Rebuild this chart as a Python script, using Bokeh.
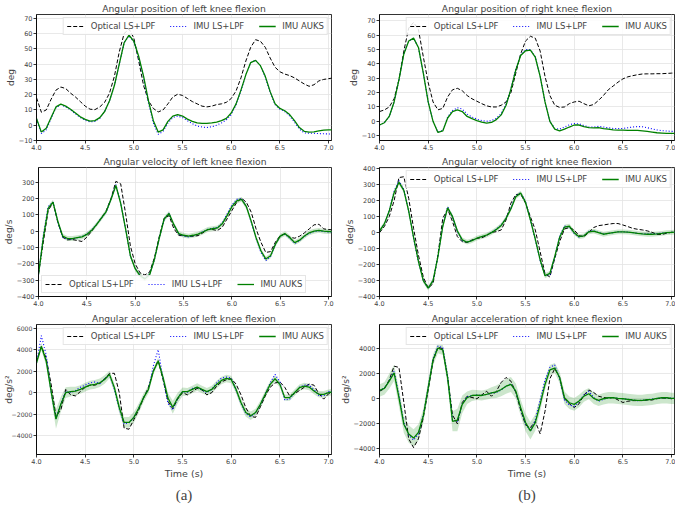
from bokeh.plotting import figure
from bokeh.models import FixedTicker, Legend, LegendItem, Title, Range1d
from bokeh.layouts import column, row
from bokeh.embed import file_html
from bokeh.resources import INLINE

# time samples (s)
T = [round(4.0 + 0.05 * i, 2) for i in range(62)]

# ---------------- Angular position (deg) ----------------
pos_l_opt = [18, 8.5, 10, 17, 23, 25, 24, 21, 18.5, 15.5,
             12.5, 10.5, 10.2, 12, 15, 21, 32, 48, 60, 63,
             57, 42, 26, 16, 11, 8.7, 10, 14, 18.5, 20.3,
             19.5, 17.5, 15.5, 14, 12.5, 12, 12.5, 13.5, 14, 15,
             17.5, 22.5, 31, 42, 51, 56, 55, 51, 44, 38,
             35, 33.5, 32.5, 31, 29, 27, 25.5, 26.5, 29, 30,
             30.5, 31]
pos_l_ls = [4, -5.5, -3, 4.5, 11.5, 13.5, 12, 10, 7.5, 5,
            3.2, 2.2, 2.5, 4.5, 9, 16, 26, 40, 54, 58.5,
            54.5, 44, 31, 14.5, 1.5, -6, -4, 1.5, 5, 6,
            5, 3, 1, -0.5, -1.2, -1.5, -1, 0, 1.5, 3.5,
            7, 13.5, 22.5, 33, 41, 42.5, 39, 31.5, 21.5, 13.5,
            10.5, 9, 6, 2, -2.5, -5, -5.3, -5.3, -5.5, -5.6,
            -5.7, -5.8]
pos_l_auks = [4.5, -4.5, -2, 5, 12, 13.8, 12.5, 10.5, 8, 5.5,
              3.8, 2.7, 3, 5, 9, 16, 26, 40, 54, 59,
              55, 45, 32, 16, 3, -4.5, -3, 2.5, 6, 7,
              6, 4, 2.5, 1.5, 1.2, 1.2, 1.5, 2, 3, 4.5,
              8, 14, 23, 33, 41, 42.5, 39, 32, 22, 14,
              11, 9.5, 7, 3, -1.5, -4, -4.5, -4.3, -3.7, -3.2,
              -3, -3]

pos_r_opt = [6.8, 7.9, 10, 15.7, 29, 49, 65, 69, 64, 45,
             27, 13.5, 8, 9, 17, 22, 23, 21.3, 18, 15.7,
             14, 12.3, 10.8, 10, 10, 11.2, 13.5, 20, 33.6, 47,
             56, 59.3, 58, 49, 31.3, 18, 11.2, 9.7, 10, 12.3,
             13.5, 14, 12.3, 10.8, 11.7, 14.6, 18, 22, 24.6, 27.3,
             29.6, 31, 31.8, 32.5, 33, 33.1, 33.1, 33.2, 33.2, 33.4,
             33.6, 33.7]
pos_r_ls = [-2.6, -1, 3.4, 13.5, 29, 47, 56, 58, 51.5, 33.6,
            13.5, 0, -7.5, -6.5, 3, 7.5, 9.5, 8.5, 5, 3,
            1.5, 0.5, 0, 0.5, 2, 5.5, 12, 23, 36.5, 46.5,
            50, 50, 45, 31.5, 13.5, 0, -5, -5.5, -4, -2.5,
            -1.5, -1.8, -3, -4, -4, -3.5, -4, -4.5, -5, -5,
            -5, -4.5, -4, -3.7, -3.8, -4.5, -5.3, -6, -6.5, -6.8,
            -7, -7.1]
pos_r_auks = [-2.6, -1, 3.4, 13.5, 29, 47, 56, 58, 51.5, 33.6,
              13.5, 0, -7.8, -6.7, 2.3, 6.8, 7.9, 6.8, 3.4, 1.8,
              0.5, -0.6, -1.3, -0.8, 1.2, 4.5, 11.2, 22.4, 35.8, 45.9,
              49.2, 49.6, 44.7, 31.3, 13.5, 0, -5.5, -6.7, -5.5, -4,
              -2.6, -2.6, -3.7, -4.4, -4.6, -4.4, -5.1, -5.5, -6, -6.2,
              -6.2, -6.4, -6.4, -6.4, -6.7, -7.1, -7.5, -8, -8.2, -8.4,
              -8.4, -8.5]

# ---------------- Angular velocity (deg/s) ----------------
vel_l_opt = [-261, -67, 126, 175, 55, -37, -53, -51, -57, -63,
             -37, 0, 40, 80, 125, 200, 305, 290, 110, -90,
             -200, -255, -268, -250, -160, -30, 80, 95, 15, -25,
             -27, -31, -31, -27, -10, 10, 10, 4, 24, 75,
             126, 177, 202, 177, 116, 14, -67, -130, -125, -67,
             -27, -16, -37, -43, -31, -10, 14, 39, 42, 14,
             10, 8]
vel_l_ls = [-265, -25, 150, 178, 55, -35, -50, -48, -40, -33,
            -18, 8, 42, 80, 118, 195, 285, 175, 15, -150,
            -228, -270, -288, -265, -170, -40, 75, 110, 38, -18,
            -30, -35, -28, -18, -3, 12, 18, 22, 50, 105,
            160, 195, 200, 150, 55, -45, -130, -180, -155, -80,
            -30, -18, -45, -75, -58, -32, -12, -2, 2, -3,
            -5, -5]
vel_l_auks = [-265, -40, 140, 178, 60, -30, -45, -45, -40, -35,
              -20, 5, 40, 80, 120, 195, 280, 170, 15, -150,
              -230, -272, -292, -265, -170, -40, 75, 108, 40, -15,
              -25, -30, -25, -18, -5, 10, 15, 20, 45, 95,
              150, 185, 195, 150, 60, -40, -120, -170, -150, -80,
              -30, -15, -40, -70, -55, -30, -10, 0, 5, 0,
              -2, -3]

vel_r_opt = [0, 38, 100, 200, 345, 350, 215, 27, -141, -278,
             -347, -320, -141, 90, 147, 69, -25, -57, -61, -46,
             -36, -32, -19, 2, 6, 17, 80, 185, 238, 242,
             185, 100, 17, -120, -257, -278, -162, -57, 23, 32,
             17, -19, -25, 2, 32, 44, 48, 53, 57, 57,
             48, 38, 27, 21, 17, 11, 2, -11, -11, -4,
             2, 4]
vel_r_ls = [10, 55, 140, 260, 325, 270, 135, -35, -185, -300,
            -350, -300, -150, 45, 162, 100, 5, -50, -60, -48,
            -35, -25, -15, 2, 22, 47, 92, 155, 230, 250,
            195, 80, -45, -175, -265, -265, -155, -25, 42, 35,
            -5, -28, -18, 8, 12, 0, -8, -5, 0, 5,
            6, 3, 0, -5, -7, -8, -8, -6, -3, 0,
            2, 3]
vel_r_auks = [10, 55, 135, 250, 315, 265, 135, -30, -180, -300,
              -348, -300, -150, 40, 155, 100, 10, -45, -60, -50,
              -35, -25, -15, 0, 20, 45, 90, 150, 225, 248,
              190, 80, -40, -170, -270, -255, -150, -30, 35, 40,
              0, -25, -20, 5, 10, 0, -10, -5, 0, 5,
              5, 3, 0, -5, -8, -10, -10, -8, -5, 0,
              2, 3]
vel_band = [15, 15, 15, 15, 15, 15, 15, 15, 15, 15,
            15, 15, 15, 15, 15, 15, 15, 15, 15, 15,
            15, 15, 15, 15, 15, 15, 15, 15, 15, 15,
            15, 15, 15, 15, 15, 15, 15, 15, 15, 15,
            15, 15, 15, 15, 15, 15, 15, 15, 15, 15,
            15, 15, 15, 15, 15, 15, 15, 15, 15, 15,
            15, 15]

# ---------------- Angular acceleration (deg/s^2) ----------------
acc_l_opt = [2900, 4300, 3200, 800, -2200, -1600, 300, -200, -300, 100,
             500, 700, 700, 850, 1300, 1800, 1800, 0, -3300, -3400,
             -2500, -1600, -500, 500, 2000, 3000, 1200, -800, -1500, -600,
             0, -200, 100, 400, 250, -200, 0, 600, 1000, 1200,
             1300, 800, -200, -1400, -2200, -2300, -1300, -300, 500, 900,
             1000, 500, -300, -100, 200, 500, 800, 700, -100, -600,
             -100, 0]
acc_l_ls = [2800, 5300, 3500, 0, -2400, -1000, 100, 0, 200, 500,
            700, 900, 1000, 850, 1300, 1650, 300, -1500, -2900, -2800,
            -2300, -1450, -450, 350, 2500, 4000, 1300, -1000, -1600, -500,
            100, 50, 400, 500, 250, 0, 300, 900, 1350, 1450,
            1350, 250, -1000, -1950, -2250, -1900, -1100, -100, 900, 1700,
            1000, -700, -600, 0, 500, 700, 700, 300, -250, -300,
            100, 100]
acc_l_auks = [2770, 4300, 2920, 150, -2450, -1080, 0, 90, 150, 300,
              520, 700, 770, 920, 1230, 1700, 460, -1380, -2770, -2770,
              -2300, -1450, -460, 300, 2000, 2950, 1400, -500, -1350, -500,
              90, 90, 300, 520, 300, 90, 300, 770, 1140, 1320,
              1230, 300, -920, -1850, -2150, -1850, -1080, -150, 770, 1290,
              770, -460, -460, 0, 460, 615, 520, 150, -150, -150,
              0, 90]
acc_l_band = [300, 350, 400, 600, 900, 700, 500, 450, 400, 400,
              400, 400, 400, 400, 400, 350, 400, 500, 500, 500,
              500, 450, 400, 350, 300, 300, 350, 500, 600, 500,
              400, 350, 350, 350, 350, 350, 350, 350, 350, 350,
              350, 350, 400, 400, 400, 350, 350, 350, 300, 300,
              300, 300, 300, 300, 300, 300, 300, 300, 300, 300,
              300, 300]

acc_r_opt = [600, 800, 1500, 2600, 2500, -300, -3200, -3900, -3200, -1500,
             700, 3000, 4100, 4000, 1700, -1300, -2000, -300, 200, 100,
             0, 300, 600, 200, 600, 1300, 1700, 1400, 500, -900,
             -2100, -2300, -1800, -2800, -1000, 1600, 2400, 1700, 0, -400,
             -700, -400, 300, 700, 500, 200, 100, 50, 100, -100,
             -300, -200, -150, -150, -150, -100, -100, 0, 50, 50,
             0, 0]
acc_r_ls = [650, 850, 1450, 2200, 300, -1900, -2900, -3300, -2800, -1300,
            900, 3200, 4200, 4100, 1700, -1700, -1800, -400, 150, 250,
            300, 250, 350, 450, 500, 700, 1000, 1200, 600, -800,
            -2000, -2600, -1700, -100, 1500, 2500, 2700, 1600, -100, -500,
            -600, -200, 300, 600, 100, -200, -50, 80, 100, 30,
            0, -50, -100, -150, -120, -80, -30, 30, 60, 80,
            40, 30]
acc_r_auks = [660, 820, 1400, 2060, 80, -2030, -2820, -3140, -2690, -1370,
              870, 3110, 4040, 3900, 1660, -1800, -1700, -450, 80, 260,
              290, 260, 340, 475, 550, 740, 1000, 1140, 610, -710,
              -1900, -2560, -1900, -450, 1140, 2300, 2450, 1700, 80, -320,
              -450, -180, 210, 400, 30, -130, 0, 80, 80, 30,
              0, -50, -100, -130, -130, -80, -50, 30, 80, 80,
              30, 30]
acc_r_band = [500, 500, 600, 650, 700, 700, 700, 700, 650, 550,
              500, 450, 400, 400, 600, 800, 900, 700, 500, 450,
              400, 400, 400, 450, 500, 550, 600, 600, 600, 650,
              700, 700, 650, 550, 450, 400, 400, 450, 500, 500,
              500, 500, 450, 450, 450, 450, 450, 450, 450, 450,
              450, 450, 450, 450, 450, 450, 450, 450, 450, 450,
              450, 450]

X_TICKS = [4.0, 4.5, 5.0, 5.5, 6.0, 6.5, 7.0]
X_LABELS = ["4.0", "4.5", "5.0", "5.5", "6.0", "6.5", "7.0"]
SERIES_NAMES = ["Optical LS+LPF", "IMU LS+LPF", "IMU AUKS"]

FONT = "DejaVu Sans"


def minus(v):
    return ("%g" % v).replace("-", "\u2212")


def panel(title, ylabel, opt, ls, auks, band, yr, yticks, legend_loc,
          width, height, left, right, top, bottom, xlabel=None, sub=None,
          tick_font="6.5px", ylab_standoff=0):
    p = figure(width=width, height=height,
               x_range=Range1d(4.0, 7.03), y_range=Range1d(yr[0], yr[1]),
               output_backend="svg", toolbar_location=None,
               min_border_left=left, min_border_right=right,
               min_border_top=top, min_border_bottom=bottom)
    p.background_fill_color = "white"
    p.border_fill_color = "white"
    p.outline_line_color = "black"
    p.outline_line_width = 0.8

    p.title.text = title
    p.title.align = "center"
    p.title.text_font = FONT
    p.title.text_font_size = "9.2px"
    p.title.text_font_style = "normal"
    p.title.standoff = 1

    p.xaxis.ticker = FixedTicker(ticks=X_TICKS)
    p.xaxis.major_label_overrides = {t: l for t, l in zip(X_TICKS, X_LABELS)}
    p.yaxis.ticker = FixedTicker(ticks=yticks)
    p.yaxis.major_label_overrides = {v: minus(v) for v in yticks}
    for ax in (p.xaxis[0], p.yaxis[0]):
        ax.major_label_text_font = FONT
        ax.major_label_text_font_size = "6.5px"
        ax.major_tick_out = 3
        ax.major_tick_in = 0
        ax.minor_tick_out = 0
        ax.minor_tick_in = 0
        ax.major_label_standoff = 1
        ax.axis_line_width = 0.8
        ax.major_tick_line_width = 0.8
        ax.axis_label_text_font = FONT
        ax.axis_label_text_font_style = "normal"
        ax.axis_label_standoff = 0
        ax.axis_label_text_line_height = 1.0
    p.yaxis.major_label_text_font_size = tick_font
    p.yaxis.axis_label = ylabel
    p.yaxis.axis_label_text_font_size = "9px"
    p.yaxis.axis_label_standoff = ylab_standoff
    if xlabel:
        p.xaxis.axis_label = xlabel
        p.xaxis.axis_label_text_font_size = "9.5px"
        p.xaxis.axis_label_standoff = 1

    p.xgrid.grid_line_color = "#e3e3e3"
    p.ygrid.grid_line_color = "#e3e3e3"
    p.xgrid.grid_line_width = 0.8
    p.ygrid.grid_line_width = 0.8

    if band is not None:
        lo = [a - b for a, b in zip(auks, band)]
        hi = [a + b for a, b in zip(auks, band)]
        p.varea(x=T, y1=lo, y2=hi, fill_color="green", fill_alpha=0.2)

    r1 = p.line(T, opt, line_color="black", line_dash="4 2", line_width=1)
    r2 = p.line(T, ls, line_color="blue", line_dash="1 2", line_width=1.1)
    r3 = p.line(T, auks, line_color="green", line_width=1.3)

    leg = Legend(items=[LegendItem(label=SERIES_NAMES[0], renderers=[r1]),
                        LegendItem(label=SERIES_NAMES[1], renderers=[r2]),
                        LegendItem(label=SERIES_NAMES[2], renderers=[r3])],
                 orientation="horizontal", location=legend_loc,
                 label_text_font=FONT, label_text_font_size="8.5px",
                 glyph_width=17, glyph_height=8, label_standoff=7,
                 spacing=14, padding=3, margin=3,
                 border_line_color="#cccccc", border_line_width=0.8,
                 background_fill_alpha=0.85)
    p.add_layout(leg)

    if sub:
        p.add_layout(Title(text=sub, align="center", text_font="Liberation Serif",
                           text_font_size="15px", text_font_style="normal",
                           standoff=6), "below")
    return p


W_L, W_R = 337, 338
tl = panel("Angular position of left knee flexion", "deg",
           pos_l_opt, pos_l_ls, pos_l_auks, None, (-10, 72.5),
           [-10, 0, 10, 20, 30, 40, 50, 60, 70], "top_right",
           W_L, 153, 36, 6, 9, 13)
tr = panel("Angular position of right knee flexion", "deg",
           pos_r_opt, pos_r_ls, pos_r_auks, None, (-13.4, 74.5),
           [-10, 0, 10, 20, 30, 40, 50, 60, 70], "top_right",
           W_R, 153, 42, 1, 9, 13)
ml = panel("Angular velocity of left knee flexion", "deg/s",
           vel_l_opt, vel_l_ls, vel_l_auks, vel_band, (-400, 390),
           [-400, -300, -200, -100, 0, 100, 200, 300], "bottom_left",
           W_L, 157, 36, 6, 14, 14)
mr = panel("Angular velocity of right knee flexion", "deg/s",
           vel_r_opt, vel_r_ls, vel_r_auks, vel_band, (-400, 408),
           [-400, -300, -200, -100, 0, 100, 200, 300, 400], "top_right",
           W_R, 157, 42, 1, 14, 14)
bl = panel("Angular acceleration of left knee flexion", "deg/s\u00b2",
           acc_l_opt, acc_l_ls, acc_l_auks, acc_l_band, (-5750, 6340),
           [-4000, -2000, 0, 2000, 4000, 6000], "top_right",
           W_L, 198, 36, 6, 13, 54, xlabel="Time (s)", sub="(a)",
           tick_font="6.2px", ylab_standoff=-5)
br = panel("Angular acceleration of right knee flexion", "deg/s\u00b2",
           acc_r_opt, acc_r_ls, acc_r_auks, acc_r_band, (-4450, 5925),
           [-4000, -2000, 0, 2000, 4000], "top_right",
           W_R, 198, 42, 1, 13, 54, xlabel="Time (s)", sub="(b)")

layout = column(row(tl, tr), row(ml, mr), row(bl, br))
open("out.html", "w").write(file_html(layout, INLINE))
